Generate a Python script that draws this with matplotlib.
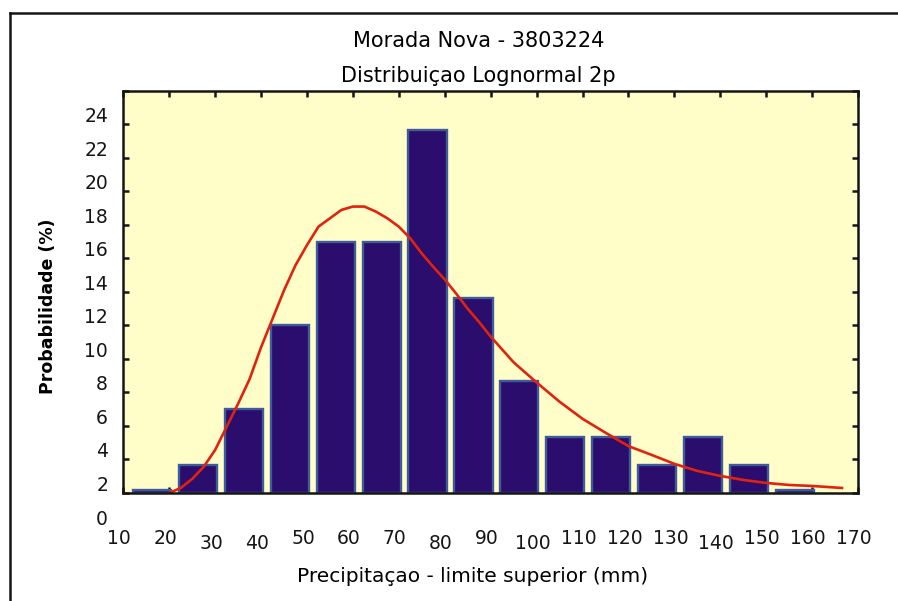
import numpy as np
import matplotlib.pyplot as plt
import matplotlib.transforms as mtransforms
from matplotlib.lines import Line2D

# limites superiores das classes (mm) e frequencias relativas (%)
limite_sup = [20, 30, 40, 50, 60, 70, 80, 90, 100, 110, 120, 130, 140, 150, 160]
prob = [0.15, 1.67, 5.0, 10.0, 15.0, 15.0, 21.67, 11.67, 6.67, 3.33, 3.33,
        1.67, 3.33, 1.67, 0.15]

# curva ajustada (lognormal 2p), lida ponto a ponto
curva_x = [20, 22.5, 25, 27.5, 30, 32.5, 35, 37.5, 40, 42.5, 45, 47.5, 50,
           52.5, 55, 57.5, 60, 62.5, 65, 67.5, 70, 72.5, 75, 77.5, 80, 82.5,
           85, 87.5, 90, 95, 100, 105, 110, 115, 120, 125, 130, 135, 140,
           145, 150, 155, 160, 166.5]
curva_y = [0.0, 0.3, 0.84, 1.56, 2.57, 3.95, 5.33, 6.8, 8.7, 10.4, 12.1,
           13.6, 14.8, 15.9, 16.4, 16.9, 17.1, 17.1, 16.8, 16.4, 15.9, 15.2,
           14.3, 13.5, 12.75, 11.9, 11.0, 10.2, 9.34, 7.8, 6.6, 5.45, 4.43,
           3.6, 2.8, 2.28, 1.74, 1.32, 1.02, 0.78, 0.6, 0.48, 0.42, 0.3]

xticks = list(range(10, 171, 10))
yticks = list(range(0, 25, 2))

plt.rcParams['font.family'] = 'DejaVu Sans'

fig = plt.figure(figsize=(8.98, 6.01), dpi=100)
ax = fig.add_axes([0.1373, 0.1797, 0.8182, 0.6689])
ax.set_facecolor('#fffdc8')

esq = np.array(limite_sup) - 10 + 2.1
ax.bar(esq, prob, width=8.3, align='edge', color='#2a0d6c',
       edgecolor='#3f5b9c', linewidth=1.7, zorder=2)
ax.plot(curva_x, curva_y, color='#e0230f', linewidth=1.9, zorder=3)

ax.set_xlim(10, 170)
ax.set_ylim(0, 24)
ax.set_xticks(xticks)
ax.set_yticks(yticks)
ax.set_xticklabels([str(v) for v in xticks])
ax.set_yticklabels([str(v) for v in yticks])

for s in ax.spines.values():
    s.set_linewidth(1.8)
    s.set_color('#151515')
    s.set_zorder(4)
ax.tick_params(direction='in', length=4, width=1.8, top=True, right=True,
               labelsize=13.5, colors='#151515')
ax.tick_params(axis='x', pad=26)
ax.tick_params(axis='y', pad=11)

# deslocamento dos rotulos dos eixos
for lab in ax.get_yticklabels():
    lab.set_transform(lab.get_transform() + mtransforms.ScaledTranslation(0, -0.24, fig.dpi_scale_trans))
baixos = [30, 40, 80, 100, 140]
for v, lab in zip(xticks, ax.get_xticklabels()):
    dy = -0.05 if v in baixos else 0.0
    lab.set_transform(lab.get_transform() + mtransforms.ScaledTranslation(-0.04, dy, fig.dpi_scale_trans))

ax.set_xlabel('Precipitaçao - limite superior (mm)', fontsize=14.5)
ax.set_ylabel('Probabilidade (%)', fontsize=12.5, fontweight='bold')
ax.xaxis.set_label_coords(0.476, -0.185)
ax.yaxis.set_label_coords(-0.09, 0.465)

fig.text(0.533, 0.932, 'Morada Nova - 3803224', ha='center', va='center', fontsize=15)
fig.text(0.533, 0.873, 'Distribuiçao Lognormal 2p', ha='center', va='center', fontsize=15)

# moldura externa
fig.add_artist(Line2D([0.0106, 0.0106], [0.0, 1 - 13 / 601], color='#151515', linewidth=1.8))
fig.add_artist(Line2D([0.0106, 1.0], [1 - 13 / 601, 1 - 13 / 601], color='#151515', linewidth=1.8))

fig.savefig('out.png', dpi=100)
